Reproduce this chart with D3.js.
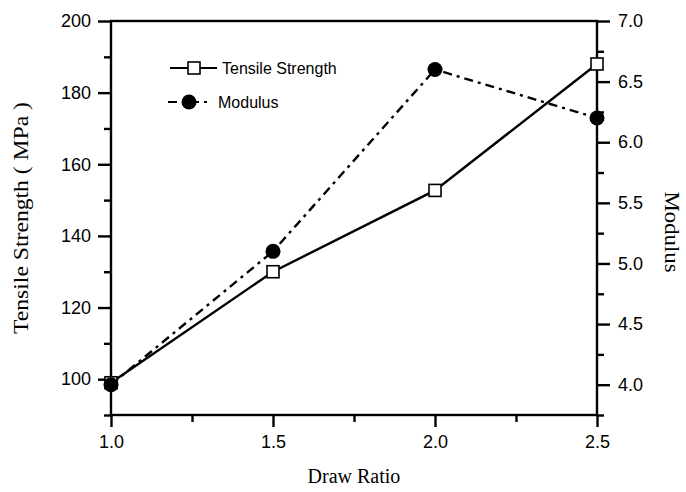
<!DOCTYPE html>
<html>
<head>
<meta charset="utf-8">
<script src="https://cdn.jsdelivr.net/npm/d3@7"></script>
<style>
  body { margin: 0; background: #fff; }
  svg { display: block; }
</style>
</head>
<body>
<div id="chart"></div>
<script>
var drawRatio = [1.0, 1.5, 2.0, 2.5];
var tensile = [99, 130, 152.7, 188];
var modulus = [4.0, 5.1, 6.6, 6.2];

var xTicks = [1.0, 1.5, 2.0, 2.5],
  xMinor = [1.25, 1.75, 2.25],
  yTicks = [100, 120, 140, 160, 180, 200],
  yMinor = [90, 110, 130, 150, 170, 190],
  y2Ticks = [4.0, 4.5, 5.0, 5.5, 6.0, 6.5, 7.0],
  y2Minor = [3.75, 4.25, 4.75, 5.25, 5.75, 6.25, 6.75];

var seriesNames = ["Tensile Strength", "Modulus"];

var w = 686,
  h = 492,
  margin = {top: 21, right: 89, bottom: 77, left: 111},
  iw = w - margin.left - margin.right,
  ih = h - margin.top - margin.bottom;

var x = d3.scaleLinear().domain([1.0, 2.5]).range([0, iw]),
  y = d3.scaleLinear().domain([90, 200]).range([ih, 0]),
  y2 = d3.scaleLinear().domain([3.75, 7.0]).range([ih, 0]);

var svg = d3.select("#chart").append("svg")
  .attr("width", w)
  .attr("height", h)
  .style("background-color", "white");

var g = svg.append("g")
  .attr("transform", "translate(" + margin.left + "," + margin.top + ")");

var tickFont = "'Liberation Sans', Arial, sans-serif";
var titleFont = "'Liberation Serif', 'Times New Roman', serif";

function styleAxis(sel) {
  sel.selectAll("text").attr("font-family", tickFont).attr("font-size", 18).attr("fill", "#000");
  sel.selectAll("line").attr("stroke", "#000").attr("stroke-width", 2.4);
  sel.select(".domain").remove();
}

// bottom axis
g.append("g").attr("transform", "translate(0," + ih + ")")
  .call(d3.axisBottom(x).tickValues(xTicks).tickSize(12).tickPadding(8).tickFormat(d3.format(".1f")))
  .call(styleAxis);
g.append("g").attr("transform", "translate(0," + ih + ")")
  .call(d3.axisBottom(x).tickValues(xMinor).tickSize(7).tickFormat(""))
  .call(styleAxis);

// left axis
g.append("g")
  .call(d3.axisLeft(y).tickValues(yTicks).tickSize(13).tickPadding(7))
  .call(styleAxis);
g.append("g")
  .call(d3.axisLeft(y).tickValues(yMinor).tickSize(7).tickFormat(""))
  .call(styleAxis);

// right axis
g.append("g").attr("transform", "translate(" + iw + ",0)")
  .call(d3.axisRight(y2).tickValues(y2Ticks).tickSize(13).tickPadding(8).tickFormat(d3.format(".1f")))
  .call(styleAxis);
g.append("g").attr("transform", "translate(" + iw + ",0)")
  .call(d3.axisRight(y2).tickValues(y2Minor).tickSize(7).tickFormat(""))
  .call(styleAxis);

// frame
g.append("rect")
  .attr("width", iw).attr("height", ih)
  .attr("fill", "none").attr("stroke", "#000").attr("stroke-width", 2.4);

var tData = drawRatio.map(function(d, i) { return [d, tensile[i]]; });
var mData = drawRatio.map(function(d, i) { return [d, modulus[i]]; });

g.append("path")
  .attr("d", d3.line().x(function(d) { return x(d[0]); }).y(function(d) { return y2(d[1]); })(mData))
  .attr("fill", "none").attr("stroke", "#000").attr("stroke-width", 2.4)
  .attr("stroke-dasharray", "9,5,3,5");

g.append("path")
  .attr("d", d3.line().x(function(d) { return x(d[0]); }).y(function(d) { return y(d[1]); })(tData))
  .attr("fill", "none").attr("stroke", "#000").attr("stroke-width", 2.4);

g.selectAll(".sq").data(tData).enter().append("rect")
  .attr("x", function(d) { return x(d[0]) - 6; })
  .attr("y", function(d) { return y(d[1]) - 6; })
  .attr("width", 12).attr("height", 12)
  .attr("fill", "#fff").attr("stroke", "#000").attr("stroke-width", 1.6);

g.selectAll(".dot").data(mData).enter().append("circle")
  .attr("cx", function(d) { return x(d[0]); })
  .attr("cy", function(d) { return y2(d[1]); })
  .attr("r", 7.5).attr("fill", "#000");

// legend
var leg = svg.append("g");
leg.append("line").attr("x1", 170).attr("x2", 217).attr("y1", 68).attr("y2", 68)
  .attr("stroke", "#000").attr("stroke-width", 2);
leg.append("rect").attr("x", 188).attr("y", 62).attr("width", 12).attr("height", 12)
  .attr("fill", "#fff").attr("stroke", "#000").attr("stroke-width", 1.6);
leg.append("text").attr("x", 222).attr("y", 74).text(seriesNames[0])
  .attr("font-family", tickFont).attr("font-size", 16);

leg.append("line").attr("x1", 168).attr("x2", 212).attr("y1", 102).attr("y2", 102)
  .attr("stroke", "#000").attr("stroke-width", 2).attr("stroke-dasharray", "9,5,3,5");
leg.append("circle").attr("cx", 189).attr("cy", 102).attr("r", 7.5).attr("fill", "#000");
leg.append("text").attr("x", 218).attr("y", 108).text(seriesNames[1])
  .attr("font-family", tickFont).attr("font-size", 16);

// axis titles
svg.append("text")
  .attr("x", margin.left + iw / 2).attr("y", 483)
  .attr("text-anchor", "middle")
  .attr("font-family", titleFont).attr("font-size", 20)
  .text("Draw Ratio");

svg.append("text")
  .attr("transform", "translate(28," + (margin.top + ih / 2) + ") rotate(-90)")
  .attr("text-anchor", "middle")
  .attr("font-family", titleFont).attr("font-size", 21)
  .attr("textLength", 232).attr("lengthAdjust", "spacingAndGlyphs")
  .text("Tensile Strength ( MPa )");

svg.append("text")
  .attr("transform", "translate(665,232) rotate(90)")
  .attr("text-anchor", "middle")
  .attr("font-family", titleFont).attr("font-size", 21)
  .attr("textLength", 81).attr("lengthAdjust", "spacingAndGlyphs")
  .text("Modulus");
</script>
</body>
</html>
